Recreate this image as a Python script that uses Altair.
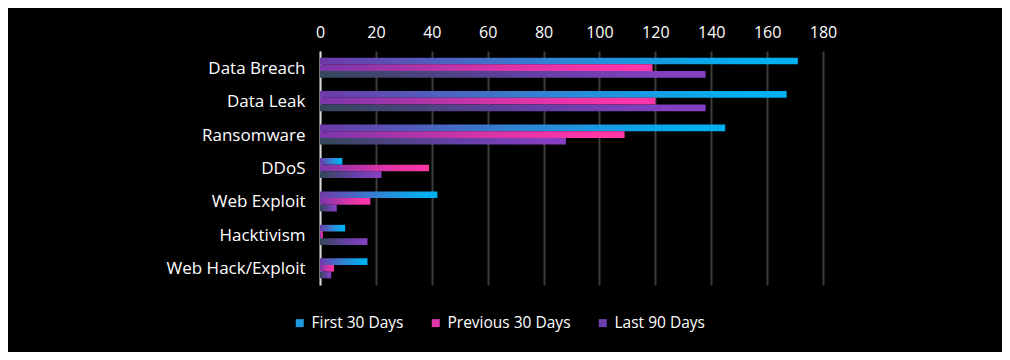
import altair as alt
import pandas as pd

categories = ["Data Breach", "Data Leak", "Ransomware", "DDoS", "Web Exploit", "Hacktivism", "Web Hack/Exploit"]
series = ["First 30 Days", "Previous 30 Days", "Last 90 Days"]
first_30 = [171, 167, 145, 8, 42, 9, 17]
previous_30 = [119, 120, 109, 39, 18, 1, 5]
last_90 = [138, 138, 88, 22, 6, 17, 4]
x_ticks = [0, 20, 40, 60, 80, 100, 120, 140, 160, 180]

rows = []
for s, vals in zip(series, [first_30, previous_30, last_90]):
    for c, v in zip(categories, vals):
        rows.append({"category": c, "series": s, "value": v})
df = pd.DataFrame(rows)

FONT = "Open Sans"

gradients = {
    "First 30 Days": [("#6e3aa8", 0.0), ("#2f86d6", 0.5), ("#00b0f0", 0.9)],
    "Previous 30 Days": [("#7a36aa", 0.0), ("#d834a8", 0.55), ("#ff35a8", 0.9)],
    "Last 90 Days": [("#34475a", 0.0), ("#6340a6", 0.55), ("#8440c0", 0.9)],
}


def grad(stops):
    return alt.LinearGradient(
        gradient="linear", x1=0, x2=1, y1=0, y2=0,
        stops=[alt.GradientStop(offset=o, color=c) for c, o in stops],
    )


y_enc = alt.Y(
    "category:N", sort=categories, title=None,
    scale=alt.Scale(paddingInner=0.4, paddingOuter=0.2),
    axis=alt.Axis(
        labelFont=FONT, labelFontSize=17, labelColor="#ffffff", labelPadding=15,
        ticks=False, domain=True, domainColor="#d9d9d9", domainWidth=2,
        grid=False, labelOffset=1,
    ),
)
x_enc = alt.X(
    "value:Q", title=None,
    scale=alt.Scale(domain=[0, 180], nice=False),
    axis=alt.Axis(
        orient="top", values=x_ticks, labelFont=FONT, labelFontSize=16,
        labelColor="#ffffff", labelPadding=11, ticks=False, domain=False,
        labelFlush=False, labelBound=False,
        grid=True, gridColor="#3d3d3d", gridWidth=2,
    ),
)
yoff = alt.YOffset("series:N", scale=alt.Scale(domain=series, paddingInner=0, paddingOuter=0))

layers = []
for s in series:
    layers.append(
        alt.Chart(df)
        .transform_filter(alt.datum.series == s)
        .mark_bar(fill=grad(gradients[s]))
        .encode(y=y_enc, x=x_enc, yOffset=yoff)
    )

legend_layer = alt.Chart(df).mark_square(opacity=0).encode(
    y=y_enc, x=x_enc, yOffset=yoff,
    color=alt.Color(
        "series:N",
        scale=alt.Scale(domain=series, range=["#1f9ae0", "#e035a8", "#6a40b0"]),
        legend=alt.Legend(
            orient="none", legendX=-28, legendY=264, direction="horizontal",
            title=None, symbolType="square", symbolSize=64, symbolOpacity=1,
            symbolStrokeWidth=0, labelFont=FONT, labelFontSize=15.5,
            labelColor="#ffffff", columnPadding=24, labelOffset=4,
        ),
    ),
)

chart = (
    alt.layer(*layers, legend_layer)
    .properties(
        width=503, height=234, background="#000000",
        autosize=alt.AutoSizeParams(type="none"),
        padding={"left": 312, "top": 43, "right": 179, "bottom": 67},
    )
    .configure_view(stroke=None)
)

chart.save("out.html", embed_options={"renderer": "svg", "actions": False})
